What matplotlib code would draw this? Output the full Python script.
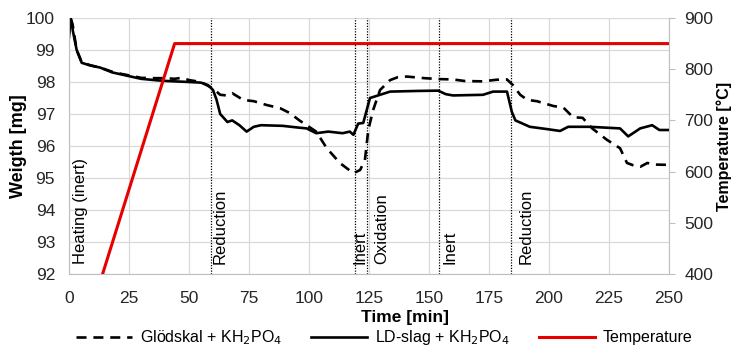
import numpy as np
import matplotlib
matplotlib.use('Agg')
from matplotlib import pyplot as plt

plt.rcParams['font.family'] = ['Liberation Sans', 'DejaVu Sans']

# ---------- Data
t_ld = [0, 0.5, 1.0, 1.6, 3.2, 5.3, 8.7, 13, 18, 21, 27, 30, 37, 41, 50, 55, 58, 60,
        61.5, 63, 66, 68, 71, 74, 77, 80, 89, 95, 99, 103, 108, 114, 117, 118.5,
        120.5, 122.6, 125.4, 129.6, 133.8, 145, 153.8, 157, 160, 172.5, 176.7,
        182.5, 184.5, 186, 189, 192, 199, 204.6, 208, 217, 229.6, 233, 238, 243,
        246, 250]
w_ld = [99.4, 100.0, 99.9, 99.6, 99.0, 98.6, 98.52, 98.45, 98.3, 98.25, 98.15, 98.1,
        98.05, 98.03, 98.0, 97.98, 97.9, 97.75, 97.44, 97.0, 96.75, 96.8, 96.65,
        96.45, 96.6, 96.65, 96.63, 96.58, 96.55, 96.4, 96.45, 96.4, 96.45, 96.35,
        96.7, 96.72, 97.5, 97.6, 97.7, 97.72, 97.73, 97.62, 97.58, 97.6, 97.7,
        97.7, 97.07, 96.8, 96.7, 96.6, 96.53, 96.47, 96.6, 96.6, 96.55, 96.3,
        96.55, 96.65, 96.5, 96.5]

t_gs = [0, 0.7, 1.5, 3.2, 5.3, 9, 13, 18, 22, 27, 30, 35, 40, 44, 47, 50, 55, 57.4,
        60, 63, 65.7, 68, 72.6, 77, 82.4, 88, 92, 96, 103, 107.4, 113, 118.5,
        121.3, 123.3, 124.7, 126.7, 129.6, 133.8, 137, 140.8, 148, 154.6, 160,
        165, 172.5, 178, 182.5, 185, 188, 191, 195, 201.8, 206, 210, 214, 218,
        224, 229.6, 232.5, 235, 238, 241, 244, 250]
w_gs = [99.5, 100.0, 99.8, 99.0, 98.62, 98.52, 98.45, 98.32, 98.25, 98.18, 98.13,
        98.12, 98.12, 98.1, 98.13, 98.06, 98.0, 97.9, 97.8, 97.6, 97.58, 97.65,
        97.44, 97.4, 97.28, 97.18, 97.03, 96.8, 96.45, 95.93, 95.46, 95.15, 95.25,
        95.56, 96.5, 97.12, 97.75, 98.06, 98.15, 98.17, 98.12, 98.09, 98.08,
        98.03, 98.02, 98.07, 98.08, 97.9, 97.6, 97.44, 97.4, 97.25, 97.2, 96.9,
        96.88, 96.55, 96.2, 95.93, 95.47, 95.4, 95.35, 95.47, 95.42, 95.41]

t_temp = [0, 44, 250]
temp = [190, 850, 850]

phase_t = [59, 119.3, 124, 154.2, 184.2]
phase_labels = ['Heating (inert)', 'Reduction', 'Inert', 'Oxidation', 'Inert', 'Reduction']
label_t = [1.6, 60.0, 118.2, 127.3, 155.8, 187.4]

# ---------- Figure
fig = plt.figure(figsize=(7.32, 3.51), dpi=100)
ax = fig.add_axes([69/732, 1-274/351, 600/732, 256/351])
ax2 = ax.twinx()

ax.plot(t_gs, w_gs, color='black', lw=1.9, ls=(0, (3.8, 2.6)), label='Glödskal + KH$_2$PO$_4$')
ax.plot(t_ld, w_ld, color='black', lw=1.9, label='LD-slag + KH$_2$PO$_4$')
for pt in phase_t:
	ax.axvline(pt, color='black', lw=0.9, ls=(0, (1, 1.2)))
for lt, lab in zip(label_t, phase_labels):
	ax.text(lt, 92.3, lab, rotation=90, ha='left', va='bottom', fontsize=12)

ax2.plot(t_temp, temp, color='#e60000', lw=2.2, label='Temperature')

ax.set_xlim(0, 250)
ax.set_ylim(92, 100)
ax2.set_ylim(400, 900)
ax.set_xticks(np.arange(0, 251, 25))
ax.set_yticks(np.arange(92, 101, 1))
ax2.set_yticks(np.arange(400, 901, 100))
ax.grid(True, color='#d9d9d9', lw=0.9)
ax.set_axisbelow(True)

for a in (ax, ax2):
	a.spines['top'].set_visible(False)
	for s in ('left', 'bottom', 'right'):
		a.spines[s].set_color('#bfbfbf')
ax.spines['right'].set_visible(False)
ax2.spines['left'].set_visible(False)
ax2.spines['bottom'].set_visible(False)

ax.tick_params(axis='y', length=0, labelsize=12.5, colors='#262626', pad=10)
ax.tick_params(axis='x', length=0, labelsize=12.5, colors='#262626', pad=12)
ax2.tick_params(axis='y', length=4, color='#bfbfbf', labelsize=12.5, labelcolor='#262626', pad=7)

ax.set_xlabel('Time [min]', fontsize=12.5, fontweight='bold', va='center')
ax.xaxis.set_label_coords(0.56, -0.168)
ax.set_ylabel('Weigth [mg]', fontsize=13, fontweight='bold')
ax.yaxis.set_label_coords(-0.07, 0.5)
ax2.set_ylabel('Temperature [°C]', fontsize=11.5, fontweight='bold', labelpad=2)

h1, l1 = ax.get_legend_handles_labels()
h2, l2 = ax2.get_legend_handles_labels()
fig.legend(h1 + h2, l1 + l2, loc='lower center', bbox_to_anchor=(0.525, -0.03), ncol=3,
	frameon=False, fontsize=11.5, handlelength=3.5, columnspacing=1.8, handletextpad=0.5)

fig.savefig('out.png', dpi=100)
